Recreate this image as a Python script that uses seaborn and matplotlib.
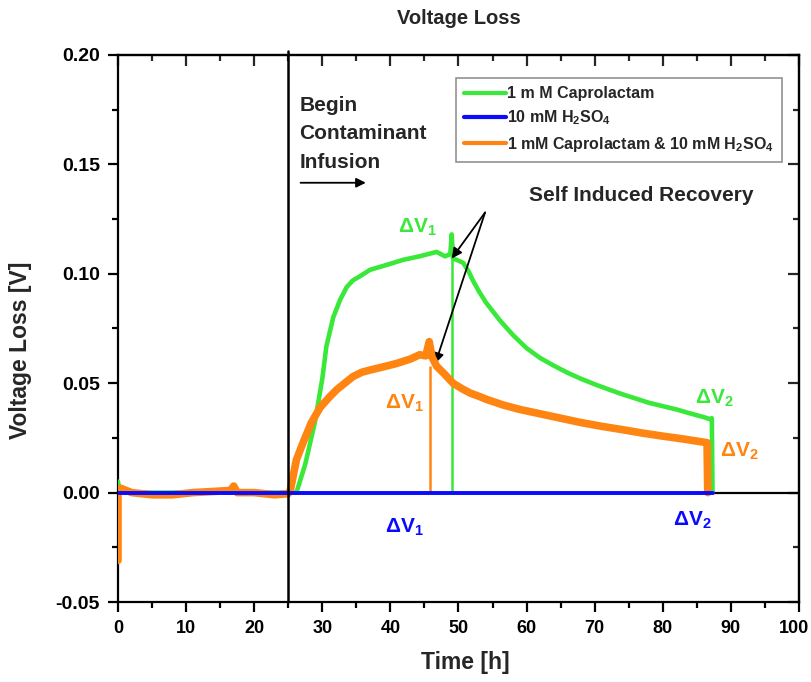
import numpy as np
import pandas as pd
import matplotlib
matplotlib.use("Agg")
import matplotlib.pyplot as plt
import matplotlib.transforms as mtransforms
from matplotlib.ticker import MultipleLocator
import seaborn as sns

# ---- data -------------------------------------------------------------
green_x = [0.0, 0.3, 5, 10, 15, 20, 25, 26.2, 27.5, 28.9, 30.0, 30.6, 31.6, 32.6,
           33.6, 34.5, 35.5, 37.0, 39.4, 41.9, 44.3, 46.8, 48.0, 48.8, 49.0, 49.2,
           49.7, 50.7, 51.5, 52.1, 53.0, 54.0, 55.0, 56.0, 57.0, 58.0, 59.0, 60.0,
           62.0, 64.0, 66.0, 68.0, 70.0, 72.0, 74.0, 76.0, 78.0, 80.0, 82.0, 84.0,
           86.0, 87.0, 87.2, 87.3]
green_y = [0.005, 0.0, 0.0, 0.0, 0.0, 0.0, 0.0, 0.0, 0.013, 0.032, 0.052, 0.0668,
           0.080, 0.088, 0.094, 0.097, 0.0988, 0.1018, 0.104, 0.1064, 0.108, 0.110,
           0.108, 0.109, 0.118, 0.107, 0.1064, 0.105, 0.101, 0.097, 0.092, 0.087,
           0.083, 0.079, 0.0755, 0.072, 0.069, 0.066, 0.0615, 0.058, 0.0548, 0.052,
           0.0495, 0.0472, 0.045, 0.043, 0.041, 0.0395, 0.038, 0.0362, 0.0345,
           0.0335, 0.034, 0.0]

blue_x = [0.0, 87.3]
blue_y = [0.0, 0.0]

orange_x = [0.0, 0.0, 0.4, 2, 5, 8, 11, 14, 16.5, 17.0, 17.5, 20, 23, 25.0, 25.3,
            26.2, 27.2, 28.4, 29.7, 31.0, 32.1, 33.3, 34.5, 35.8, 37.0, 39.0, 40.9,
            42.9, 44.3, 45.2, 45.7, 46.1, 46.8, 48.0, 49.2, 50.5, 51.7, 53.0, 54.2,
            56.6, 59.0, 62.0, 65.0, 68.0, 71.0, 74.0, 77.0, 80.0, 83.0, 86.5, 86.6]
orange_y = [-0.031, 0.0, 0.002, 0.0, -0.001, -0.001, 0.0, 0.0005, 0.001, 0.003, 0.0,
            0.0, -0.001, -0.0005, 0.001, 0.015, 0.023, 0.032, 0.039, 0.0435, 0.047,
            0.050, 0.053, 0.055, 0.056, 0.0575, 0.059, 0.061, 0.063, 0.0625, 0.069,
            0.062, 0.0577, 0.054, 0.050, 0.0475, 0.0455, 0.044, 0.0425, 0.040, 0.038,
            0.036, 0.034, 0.032, 0.0303, 0.0288, 0.0272, 0.0258, 0.0245, 0.0228, 0.0]

# drop lines marking the start of recovery
drop_x = [49.0, 45.8]
drop_top = [0.108, 0.058]

series_names = ["1 m M Caprolactam", "10 mM H$_2$SO$_4$",
                "1 mM Caprolactam & 10 mM H$_2$SO$_4$"]
infusion_start = 25.0

x_ticks = [0, 10, 20, 30, 40, 50, 60, 70, 80, 90, 100]
y_ticks = [-0.05, 0.00, 0.05, 0.10, 0.15, 0.20]

GREEN = "#3ae83a"
BLUE = "#0a0aff"
ORANGE = "#ff8512"

# ---- style ------------------------------------------------------------
sns.set_theme(style="ticks")
plt.rcParams["font.family"] = ["Liberation Sans", "DejaVu Sans"]
plt.rcParams["font.weight"] = "bold"
plt.rcParams["mathtext.fontset"] = "custom"
plt.rcParams["mathtext.rm"] = "Liberation Sans:bold"
plt.rcParams["mathtext.bf"] = "Liberation Sans:bold"
plt.rcParams["mathtext.it"] = "Liberation Sans:bold"
plt.rcParams["mathtext.default"] = "rm"

fig = plt.figure(figsize=(8.12, 6.82), dpi=100)
ax = fig.add_axes([0.1453, 0.1173, 0.9840 - 0.1453, 0.9194 - 0.1173])

# reference lines
ax.axhline(0.0, color="black", lw=1.6, zorder=1)
ax.axvline(infusion_start, ymin=0, ymax=1.008, color="black", lw=1.8, zorder=6,
           clip_on=False)

df_g = pd.DataFrame({"t": green_x, "v": green_y})
df_b = pd.DataFrame({"t": blue_x, "v": blue_y})
df_o = pd.DataFrame({"t": orange_x, "v": orange_y})

sns.lineplot(data=df_g, x="t", y="v", ax=ax, color=GREEN, lw=3.3, sort=False,
             estimator=None, label=series_names[0], zorder=3)
sns.lineplot(data=df_b, x="t", y="v", ax=ax, color=BLUE, lw=2.8, sort=False,
             estimator=None, label=series_names[1], zorder=4)
sns.lineplot(data=df_o, x="t", y="v", ax=ax, color=ORANGE, lw=5.5, sort=False,
             estimator=None, label=series_names[2], zorder=3.5)

ax.vlines(drop_x[0], 0, drop_top[0], color=GREEN, lw=1.8, zorder=3)
ax.vlines(drop_x[1], 0, drop_top[1], color=ORANGE, lw=1.8, zorder=3)

# axes
ax.set_xlim(0, 100)
ax.set_ylim(-0.05, 0.20)
ax.set_xticks(x_ticks)
ax.set_yticks(y_ticks)
ax.set_xticklabels([str(v) for v in x_ticks])
ax.set_yticklabels([f"{v:.2f}" for v in y_ticks])
ax.xaxis.set_minor_locator(MultipleLocator(5))
ax.yaxis.set_minor_locator(MultipleLocator(0.025))
ax.tick_params(which="major", direction="out", length=7.5, width=1.6,
               pad=5.5, color="black", labelcolor="black")
ax.tick_params(which="minor", direction="out", length=4.5, width=1.6, color="black")
ax.tick_params(axis="x", labelsize=13)
ax.tick_params(axis="y", labelsize=14)
for s in ax.spines.values():
    s.set_linewidth(1.6)
    s.set_color("black")
    s.set_visible(True)

# keep the last x tick label inside the canvas
last = ax.get_xticklabels()[-1]
last.set_transform(last.get_transform() +
                   mtransforms.ScaledTranslation(-5 / 100, 0, fig.dpi_scale_trans))

# mirrored inward ticks on top and right
top = ax.secondary_xaxis("top")
top.set_xticks(x_ticks)
top.xaxis.set_minor_locator(MultipleLocator(5))
top.tick_params(which="major", direction="in", length=8, width=1.6, labeltop=False)
top.tick_params(which="minor", direction="in", length=4.5, width=1.6)
top.spines["top"].set_linewidth(1.6)
right = ax.secondary_yaxis("right")
right.set_yticks(y_ticks)
right.yaxis.set_minor_locator(MultipleLocator(0.025))
right.tick_params(which="major", direction="in", length=8, width=1.6, labelright=False)
right.tick_params(which="minor", direction="in", length=4.5, width=1.6)
right.spines["right"].set_linewidth(1.6)

ax.set_xlabel("Time [h]", fontsize=16.5, fontweight="bold")
ax.set_ylabel("Voltage Loss [V]", fontsize=16.5, fontweight="bold")
ax.xaxis.set_label_coords(0.51, -0.089)
ax.yaxis.set_label_coords(-0.126, 0.46)
ax.set_title("Voltage Loss", fontsize=14.5, fontweight="bold", pad=22)

# legend
leg = ax.legend(loc="upper right", bbox_to_anchor=(0.975, 0.957), fontsize=11.5,
                frameon=True, fancybox=False, edgecolor="#777777",
                handlelength=2.6, handletextpad=0.1, borderpad=0.5,
                labelspacing=0.45, borderaxespad=0)
leg.get_frame().set_linewidth(1.2)
for line in leg.get_lines():
    line.set_linewidth(3)

# annotations
tk = dict(fontsize=15, fontweight="bold")
ax.text(26.6, 0.177, "Begin", ha="left", va="center", **tk)
ax.text(26.6, 0.164, "Contaminant", ha="left", va="center", **tk)
ax.text(26.6, 0.151, "Infusion", ha="left", va="center", **tk)
ax.annotate("", xy=(36.8, 0.1416), xytext=(26.4, 0.1416),
            arrowprops=dict(arrowstyle="-|>", color="black", lw=1.3,
                            mutation_scale=14))

ax.text(76.8, 0.136, "Self Induced Recovery", ha="center", va="center", **tk)
for tip in [(49.0, 0.107), (46.6, 0.059)]:
    ax.annotate("", xy=tip, xytext=(53.9, 0.128),
                arrowprops=dict(arrowstyle="-|>", color="black", lw=1.3,
                                mutation_scale=15, shrinkA=0, shrinkB=0))

dk = dict(fontsize=15, fontweight="bold", ha="center", va="center")
ax.text(44.0, 0.121, "ΔV$_1$", color=GREEN, **dk)
ax.text(42.0, 0.041, "ΔV$_1$", color=ORANGE, **dk)
ax.text(42.0, -0.016, "ΔV$_1$", color=BLUE, **dk)
ax.text(87.6, 0.043, "ΔV$_2$", color=GREEN, **dk)
ax.text(91.3, 0.019, "ΔV$_2$", color=ORANGE, **dk)
ax.text(84.3, -0.0125, "ΔV$_2$", color=BLUE, **dk)

fig.savefig("out.png", dpi=100, facecolor="white")
